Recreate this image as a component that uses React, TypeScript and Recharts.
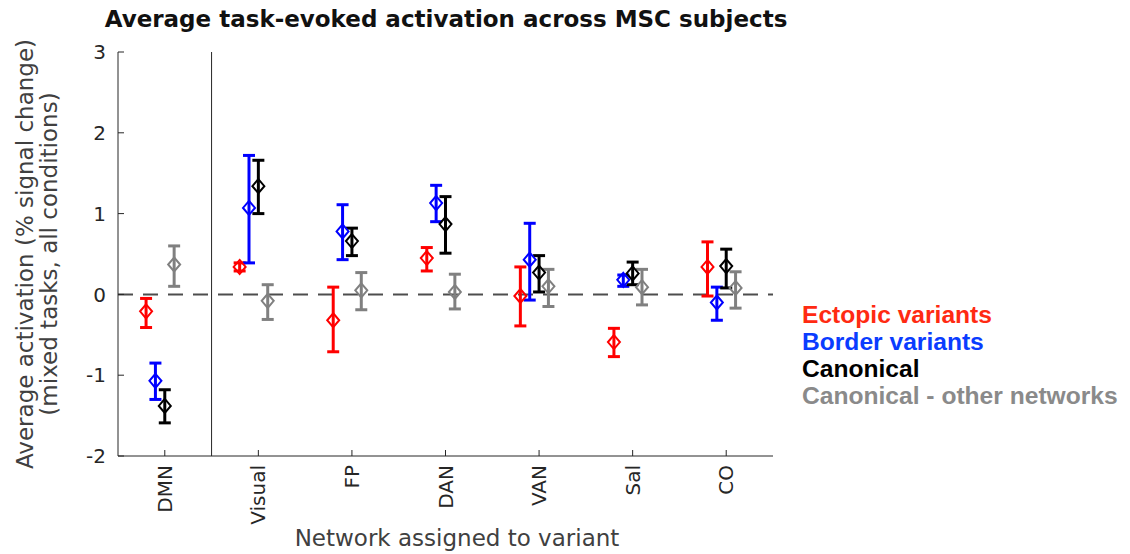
import { ComposedChart, Scatter, ErrorBar, XAxis, YAxis, ReferenceLine } from 'recharts';

const networks = ['DMN', 'Visual', 'FP', 'DAN', 'VAN', 'Sal', 'CO'];
const yTicks = [-2, -1, 0, 1, 2, 3];

// mean and lower / upper bounds of the error bars, one entry per network
const ectopicMean = [-0.21, 0.34, -0.32, 0.45, -0.02, -0.59, 0.34];
const ectopicLow = [-0.41, 0.29, -0.71, 0.29, -0.39, -0.77, -0.02];
const ectopicHigh = [-0.05, 0.39, 0.09, 0.58, 0.34, -0.42, 0.65];

const borderMean = [-1.07, 1.07, 0.78, 1.13, 0.43, 0.18, -0.1];
const borderLow = [-1.3, 0.39, 0.43, 0.9, -0.07, 0.1, -0.32];
const borderHigh = [-0.85, 1.72, 1.11, 1.35, 0.88, 0.24, 0.09];

const canonicalMean = [-1.38, 1.34, 0.66, 0.87, 0.27, 0.26, 0.35];
const canonicalLow = [-1.59, 1.0, 0.48, 0.51, 0.03, 0.12, 0.08];
const canonicalHigh = [-1.18, 1.66, 0.82, 1.21, 0.48, 0.4, 0.56];

const otherMean = [0.37, -0.08, 0.05, 0.03, 0.1, 0.09, 0.08];
const otherLow = [0.1, -0.31, -0.19, -0.18, -0.15, -0.13, -0.17];
const otherHigh = [0.6, 0.12, 0.27, 0.25, 0.31, 0.31, 0.28];

const toPoints = (mean: number[], low: number[], high: number[], offset: number) =>
  mean.map((m, i) => ({ x: i + 1 + offset, y: m, err: [m - low[i], high[i] - m] }));

const SERIES = [
  { name: 'Ectopic variants', color: '#ff0000', legend: '#ff2a12', data: toPoints(ectopicMean, ectopicLow, ectopicHigh, -0.2) },
  { name: 'Border variants', color: '#0000ff', legend: '#0a3cff', data: toPoints(borderMean, borderLow, borderHigh, -0.1) },
  { name: 'Canonical', color: '#000000', legend: '#000000', data: toPoints(canonicalMean, canonicalLow, canonicalHigh, 0) },
  { name: 'Canonical - other networks', color: '#808080', legend: '#8a8a8a', data: toPoints(otherMean, otherLow, otherHigh, 0.1) },
];

const FONT = '"DejaVu Sans", sans-serif';
const AXIS = '#262626';

// open diamond marker, like matlab's 'd'
const diamond = (color: string) => (props: any) => {
  const { cx, cy } = props;
  return (
    <polygon
      points={`${cx},${cy - 7} ${cx + 6},${cy} ${cx},${cy + 7} ${cx - 6},${cy}`}
      fill="none"
      stroke={color}
      strokeWidth={2}
    />
  );
};

function NetworkTick({ x, y, payload }: any) {
  return (
    <text
      x={x}
      y={y}
      transform={`rotate(-90 ${x} ${y})`}
      textAnchor="end"
      dominantBaseline="central"
      fontFamily={FONT}
      fontSize={20}
      fill="#262626"
    >
      {networks[payload.value - 1]}
    </text>
  );
}

const NoTick = () => <g />;

export default function App() {
  return (
    <div style={{ position: 'absolute', left: 0, top: 0, width: 1130, height: 554, background: '#fff' }}>
      <ComposedChart width={1130} height={554} margin={{ top: 52, right: 357, bottom: 0, left: 0 }}>
        <XAxis
          type="number"
          dataKey="x"
          domain={[0.5, 7.5]}
          ticks={[1, 2, 3, 4, 5, 6, 7]}
          allowDataOverflow
          height={98}
          stroke={AXIS}
          tickSize={-6}
          tickMargin={15}
          tick={<NetworkTick />}
        />
        <XAxis
          xAxisId="top"
          orientation="top"
          type="number"
          domain={[0.5, 7.5]}
          ticks={[1, 2, 3, 4, 5, 6, 7]}
          allowDataOverflow
          height={0}
          stroke={AXIS}
          tickSize={-6}
          tick={<NoTick />}
        />
        <YAxis
          type="number"
          dataKey="y"
          domain={[-2, 3]}
          ticks={yTicks}
          allowDataOverflow
          width={118}
          stroke={AXIS}
          tickSize={-6}
          tickMargin={18}
          tick={{ fontFamily: FONT, fontSize: 20, fill: '#262626' }}
        />
        <YAxis
          yAxisId="right"
          orientation="right"
          type="number"
          domain={[-2, 3]}
          ticks={yTicks}
          allowDataOverflow
          width={0}
          stroke={AXIS}
          tickSize={-6}
          tick={<NoTick />}
        />
        <ReferenceLine y={0} stroke="#4d4d4d" strokeWidth={2} strokeDasharray="15 10" />
        <ReferenceLine x={1.5} stroke={AXIS} strokeWidth={1} />
        {SERIES.map((s) => (
          <Scatter key={s.name} name={s.name} data={s.data} shape={diamond(s.color)} isAnimationActive={false}>
            <ErrorBar dataKey="err" direction="y" width={6} stroke={s.color} strokeWidth={3} isAnimationActive={false} />
          </Scatter>
        ))}
      </ComposedChart>
      <svg width={1130} height={554} style={{ position: 'absolute', left: 0, top: 0, pointerEvents: 'none' }}>
        <text x={446} y={27} textAnchor="middle" fontFamily={FONT} fontWeight="bold" fontSize={23} fill="#111">
          Average task-evoked activation across MSC subjects
        </text>
        <g fontFamily={FONT} fontSize={23} fill="#404040" textAnchor="middle">
          <text transform="translate(33 254) rotate(-90)">Average activation (% signal change)</text>
          <text transform="translate(57 254) rotate(-90)">(mixed tasks, all conditions)</text>
        </g>
        <text x={457} y={546} textAnchor="middle" fontFamily={FONT} fontSize={23} fill="#404040">
          Network assigned to variant
        </text>
        <g fontFamily='"Liberation Sans", Arial, sans-serif' fontWeight="bold" fontSize={24.6}>
          {SERIES.map((s, i) => (
            <text key={s.name} x={802} y={323 + i * 27} fill={s.legend}>
              {s.name}
            </text>
          ))}
        </g>
      </svg>
    </div>
  );
}
